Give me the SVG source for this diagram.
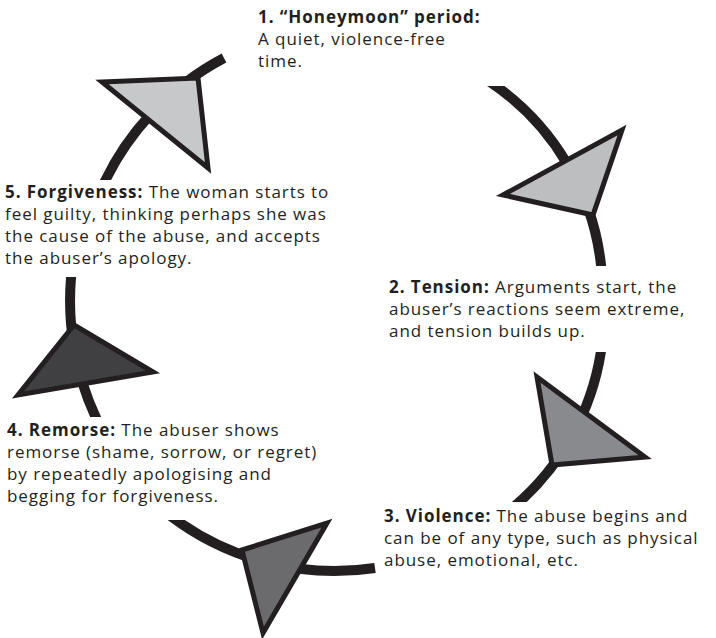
<svg xmlns="http://www.w3.org/2000/svg" width="716" height="638" viewBox="0 0 716 638">
<style>
.arc{fill:none;stroke:#231f20;stroke-width:10;stroke-linecap:butt}
.tri{stroke:#231f20;stroke-width:5;stroke-linejoin:miter;stroke-miterlimit:10}
.t{font-family:"Open Sans","Liberation Sans",sans-serif;font-size:17px;letter-spacing:0.95px;fill:#231f20}
.b{font-weight:700}
</style>
<defs>
<clipPath id="cA"><rect x="0" y="0" width="716" height="180"/></clipPath>
<clipPath id="cB"><rect x="0" y="86" width="716" height="180"/></clipPath>
<clipPath id="cC"><rect x="0" y="352" width="716" height="150"/></clipPath>
<clipPath id="cD"><rect x="0" y="520" width="716" height="118"/></clipPath>
<clipPath id="cE"><rect x="0" y="277" width="716" height="140"/></clipPath>
</defs>
<rect width="716" height="638" fill="#ffffff"/>
<g id="connectors">
<path class="arc" clip-path="url(#cA)" d="M100,192 A275,275 0 0 1 224,58"/>
<path class="arc" clip-path="url(#cB)" d="M484,78 A255,255 0 0 1 602,276"/>
<path class="arc" clip-path="url(#cC)" d="M602,344 A255,255 0 0 1 510,510"/>
<path class="arc" clip-path="url(#cD)" d="M168,514 A272,272 0 0 0 375,568"/>
<path class="arc" clip-path="url(#cE)" d="M72,268 A277,277 0 0 0 100,426"/>
<polygon class="tri" fill="#c7c8ca" points="102,82 198,78 208,168"/>
<polygon class="tri" fill="#bcbec0" points="503,195 622,130 593,215"/>
<polygon class="tri" fill="#898a8d" points="537,377 645,457 552,465"/>
<polygon class="tri" fill="#6b6b6e" points="242,550 327,523 263,633"/>
<polygon class="tri" fill="#404042" points="74,325 153,372 18,395"/>
</g>
<g id="step1">
<text class="t" x="258" y="23"><tspan class="b">1. “Honeymoon” period:</tspan></text>
<text class="t" x="258" y="45">A quiet, violence-free</text>
<text class="t" x="258" y="67">time.</text>
</g>
<g id="step2">
<text class="t" x="389" y="293"><tspan class="b">2. Tension:</tspan> Arguments start, the</text>
<text class="t" x="389" y="315">abuser’s reactions seem extreme,</text>
<text class="t" x="389" y="337">and tension builds up.</text>
</g>
<g id="step3">
<text class="t" x="384" y="522"><tspan class="b">3. Violence:</tspan> The abuse begins and</text>
<text class="t" x="384" y="544">can be of any type, such as physical</text>
<text class="t" x="384" y="566">abuse, emotional, etc.</text>
</g>
<g id="step4">
<text class="t" x="7" y="436"><tspan class="b">4. Remorse:</tspan> The abuser shows</text>
<text class="t" x="7" y="458">remorse (shame, sorrow, or regret)</text>
<text class="t" x="7" y="480">by repeatedly apologising and</text>
<text class="t" x="7" y="502">begging for forgiveness.</text>
</g>
<g id="step5">
<text class="t" x="5" y="198"><tspan class="b">5. Forgiveness:</tspan> The woman starts to</text>
<text class="t" x="5" y="220">feel guilty, thinking perhaps she was</text>
<text class="t" x="5" y="242">the cause of the abuse, and accepts</text>
<text class="t" x="5" y="264">the abuser’s apology.</text>
</g>
</svg>
